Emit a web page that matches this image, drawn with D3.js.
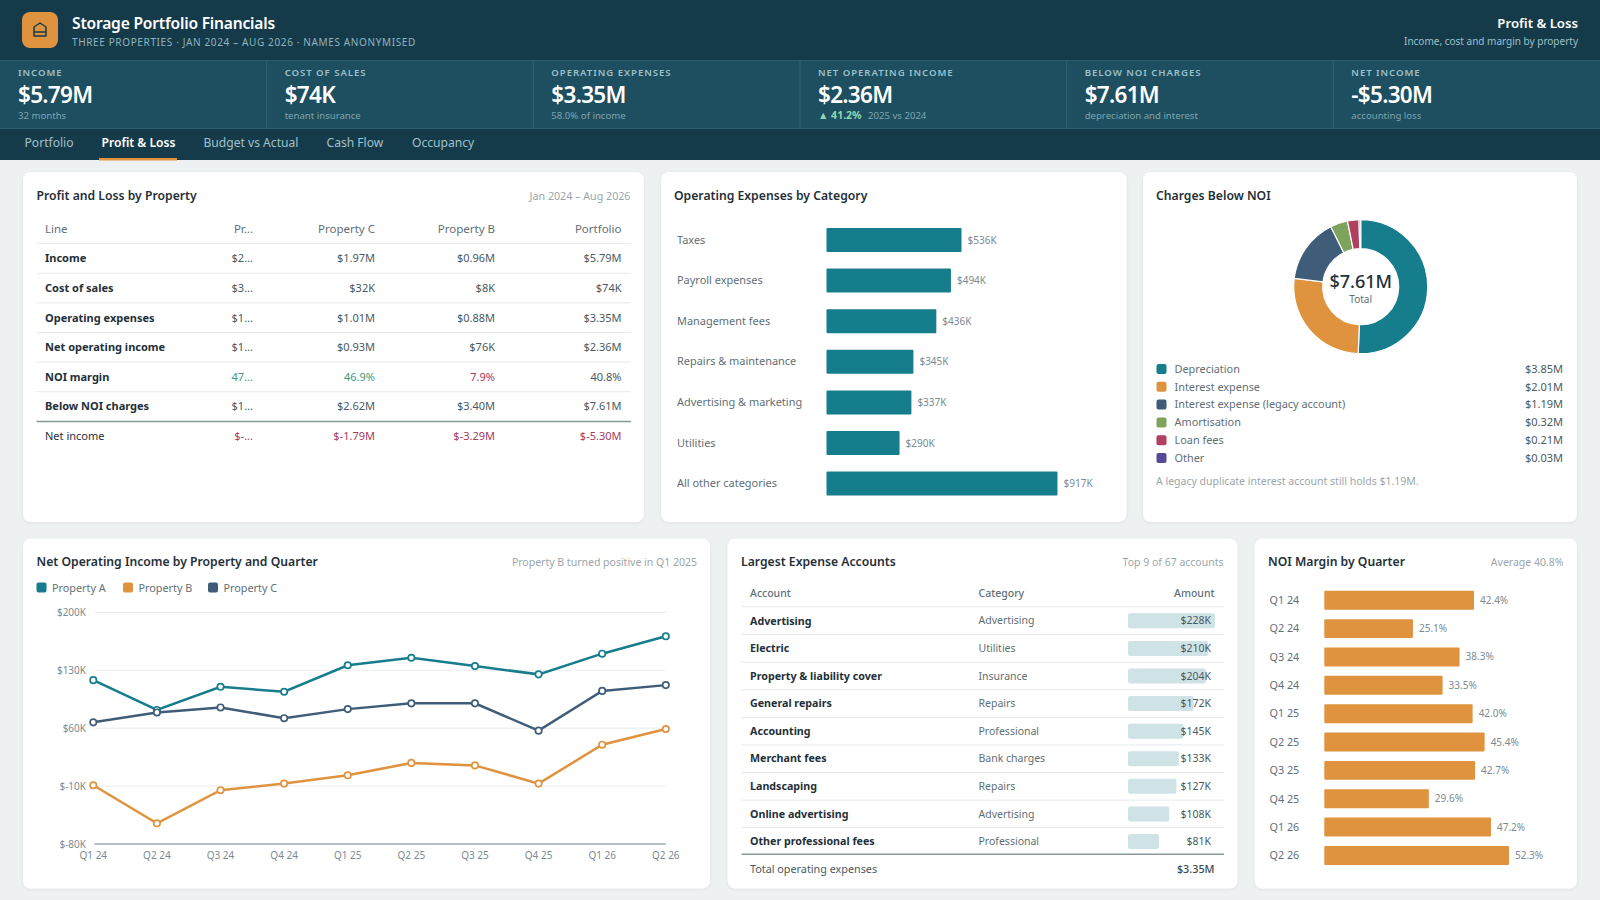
<!DOCTYPE html>
<html>
<head>
<meta charset="utf-8">
<title>Storage Portfolio Financials</title>
<script src="https://cdn.jsdelivr.net/npm/d3@7"></script>
<style>
    body { margin: 0; background: #eef1f2; overflow: hidden; }
    text { font-family: "Noto Sans", "Open Sans", sans-serif; }
</style>
</head>
<body>
<div id="chart"></div>
<script>
// KPI strip
const kpiLabels = ["INCOME", "COST OF SALES", "OPERATING EXPENSES", "NET OPERATING INCOME", "BELOW NOI CHARGES", "NET INCOME"];
const kpiValues = ["$5.79M", "$74K", "$3.35M", "$2.36M", "$7.61M", "-$5.30M"];
const kpiNotes = ["32 months", "tenant insurance", "58.0% of income", "2025 vs 2024", "depreciation and interest", "accounting loss"];

// Tabs
const tabNames = ["Portfolio", "Profit & Loss", "Budget vs Actual", "Cash Flow", "Occupancy"];

// Profit and loss table
const plLines = ["Income", "Cost of sales", "Operating expenses", "Net operating income", "NOI margin", "Below NOI charges", "Net income"];
const plHeaders = ["Line", "Pr...", "Property C", "Property B", "Portfolio"];
const plPropertyA = ["$2...", "$3...", "$1...", "$1...", "47...", "$1...", "$-..."];
const plPropertyC = ["$1.97M", "$32K", "$1.01M", "$0.93M", "46.9%", "$2.62M", "$-1.79M"];
const plPropertyB = ["$0.96M", "$8K", "$0.88M", "$76K", "7.9%", "$3.40M", "$-3.29M"];
const plPortfolio = ["$5.79M", "$74K", "$3.35M", "$2.36M", "40.8%", "$7.61M", "$-5.30M"];

// Operating expenses by category ($K)
const opexCategories = ["Taxes", "Payroll expenses", "Management fees", "Repairs & maintenance", "Advertising & marketing", "Utilities", "All other categories"];
const opexValues = [536, 494, 436, 345, 337, 290, 917];

// Charges below NOI ($M)
const chargeNames = ["Depreciation", "Interest expense", "Interest expense (legacy account)", "Amortisation", "Loan fees", "Other"];
const chargeValues = [3.85, 2.01, 1.19, 0.32, 0.21, 0.03];
const chargeColors = ["#167d8d", "#e0933f", "#3f5d78", "#7ea35c", "#b0405f", "#564a96"];

// NOI by property and quarter ($K)
const quarters = ["Q1 24", "Q2 24", "Q3 24", "Q4 24", "Q1 25", "Q2 25", "Q3 25", "Q4 25", "Q1 26", "Q2 26"];
const noiPropertyA = [118, 82, 110, 104, 136, 145, 135, 125, 150, 171];
const noiPropertyB = [-9, -55, -15, -7, 3, 18, 15, -7, 40, 59];
const noiPropertyC = [67, 79, 85, 72, 83, 90, 90, 57, 105, 112];
const noiTicks = [200, 130, 60, -10, -80];

// Largest expense accounts ($K)
const accountNames = ["Advertising", "Electric", "Property & liability cover", "General repairs", "Accounting", "Merchant fees", "Landscaping", "Online advertising", "Other professional fees"];
const accountCategories = ["Advertising", "Utilities", "Insurance", "Repairs", "Professional", "Bank charges", "Repairs", "Advertising", "Professional"];
const accountValues = [228, 210, 204, 172, 145, 133, 127, 108, 81];

// NOI margin by quarter (%)
const marginValues = [42.4, 25.1, 38.3, 33.5, 42.0, 45.4, 42.7, 29.6, 47.2, 52.3];

const ink = "#1f3038";
const muted = "#5f6f76";
const faint = "#9aa6ab";
const rowLine = "#e6eaec";
const strongLine = "#8a979d";
const teal = "#167d8d";
const orange = "#e0933f";
const navy = "#3f5d78";
const red = "#a83a5c";
const green = "#3f9a7c";

const svg = d3.select("#chart").append("svg")
    .attr("width", 1600)
    .attr("height", 900)
    .style("display", "block");

// Soft card shadow
const shadow = svg.append("defs").append("filter")
    .attr("id", "card-shadow")
    .attr("x", "-5%").attr("y", "-5%").attr("width", "110%").attr("height", "110%");
shadow.append("feDropShadow")
    .attr("dx", 0).attr("dy", 1).attr("stdDeviation", 1.5)
    .attr("flood-color", "#1f3038").attr("flood-opacity", 0.07);

// Small helper so every label is written the same way
function label(parent, x, y, str, size, color, opts = {}) {
    return parent.append("text")
        .attr("x", x)
        .attr("y", y)
        .attr("dy", "0.35em")
        .attr("font-size", size)
        .attr("fill", color)
        .attr("font-weight", opts.weight || 400)
        .attr("text-anchor", opts.anchor || "start")
        .attr("letter-spacing", opts.spacing || 0)
        .text(str);
}

function card(x, y, w, h) {
    svg.append("rect")
        .attr("x", x)
        .attr("y", y)
        .attr("width", w)
        .attr("height", h)
        .attr("rx", 8)
        .attr("fill", "#fff")
        .attr("filter", "url(#card-shadow)");
}

function rule(x1, x2, y, color, width = 1) {
    svg.append("line")
        .attr("x1", x1)
        .attr("x2", x2)
        .attr("y1", y)
        .attr("y2", y)
        .attr("stroke", color)
        .attr("stroke-width", width);
}

// Header band
svg.append("rect").attr("width", 1600).attr("height", 60).attr("fill", "#153b4b");
svg.append("rect").attr("y", 60).attr("width", 1600).attr("height", 68).attr("fill", "#1d4f60");
svg.append("rect").attr("y", 128).attr("width", 1600).attr("height", 32).attr("fill", "#153b4b");
rule(0, 1600, 60.5, "#2b5e6e");
rule(0, 1600, 128.5, "#2b5e6e");

svg.append("rect")
    .attr("x", 22).attr("y", 12).attr("width", 36).attr("height", 36).attr("rx", 8)
    .attr("fill", orange);
svg.append("path")
    .attr("d", "M34 36v-9l6-4 6 4v9z M34 32h12")
    .attr("fill", "none")
    .attr("stroke", "#153b4b")
    .attr("stroke-width", 1.5)
    .attr("stroke-linejoin", "round");

label(svg, 72, 23.5, "Storage Portfolio Financials", 15.6, "#fff", { weight: 600, spacing: -0.2 });
label(svg, 72, 42.5, "THREE PROPERTIES · JAN 2024 – AUG 2026 · NAMES ANONYMISED", 10, "#8fb4bf", { spacing: 0.63 });
label(svg, 1578, 23.5, "Profit & Loss", 13.2, "#fff", { weight: 600, anchor: "end" });
label(svg, 1578, 41, "Income, cost and margin by property", 10, "#9fbfc8", { anchor: "end" });

// KPI cells
const kpiX = d3.scaleBand().domain(kpiLabels).range([0, 1600]);
kpiLabels.forEach((name, i) => {
    const x = kpiX(name);
    const tx = x + 18;
    label(svg, tx, 73, name, 9.6, "#9cc0ca", { weight: 600, spacing: 0.95 });
    label(svg, tx, 95, kpiValues[i], 22.5, "#fff", { weight: 600, spacing: -0.7 });
    if (name === "NET OPERATING INCOME") {
        label(svg, tx, 115.5, "▲ 41.2%", 10.5, "#8fd6b4", { weight: 700 });
        label(svg, tx + 50, 115.5, kpiNotes[i], 9.6, "#7fa4ae");
    } else {
        label(svg, tx, 115.5, kpiNotes[i], 9.6, "#7fa4ae");
    }
    if (i > 0) {
        svg.append("line")
            .attr("x1", x).attr("x2", x)
            .attr("y1", 61).attr("y2", 128)
            .attr("stroke", "#2f6373");
    }
});

// Tabs
const tabX = [24.5, 101.5, 203.5, 326.5, 412];
tabNames.forEach((name, i) => {
    label(svg, tabX[i], 142.5, name, 12.1, i === 1 ? "#fff" : "#a0c0c9", { weight: i === 1 ? 600 : 400 });
});
svg.append("rect").attr("x", 99).attr("y", 158).attr("width", 78).attr("height", 2.5).attr("fill", orange);

// Cards
card(23, 172, 621, 350);
card(661, 172, 465.5, 350);
card(1143, 172, 434, 350);
card(23, 538.5, 687, 350);
card(727.5, 538.5, 510, 350);
card(1254.5, 538.5, 322.5, 350);

const titleSize = 12.2;

// Profit and loss table
label(svg, 36.5, 195.5, "Profit and Loss by Property", titleSize, ink, { weight: 600 });
label(svg, 630.5, 196, "Jan 2024 – Aug 2026", 10.7, faint, { anchor: "end" });

const plRows = ["header"].concat(plLines);
const plY = d3.scaleBand().domain(plRows).range([214, 451]);
const plColumns = [plPropertyA, plPropertyC, plPropertyB, plPortfolio];
const plRight = [253, 375, 495, 621.5];

plRows.forEach((row, r) => {
    const cy = plY(row) + plY.bandwidth() / 2;
    if (r === 0) {
        label(svg, 45, cy, plHeaders[0], 11.5, muted);
        plHeaders.slice(1).forEach((h, c) => label(svg, plRight[c], cy, h, 11.5, muted, { anchor: "end" }));
    } else {
        const i = r - 1;
        const bold = row !== "Net income";
        label(svg, 45, cy, row, 11, ink, { weight: bold ? 700 : 400 });
        plColumns.forEach((col, c) => {
            let color = "#4a5a61";
            if (row === "Net income") color = red;
            if (row === "NOI margin" && c < 2) color = green;
            if (row === "NOI margin" && c === 2) color = red;
            label(svg, plRight[c], cy, col[i], 11, color, { anchor: "end" });
        });
    }
    if (r < plRows.length - 1) {
        const next = plY.step() * (r + 1) + plY(plRows[0]);
        rule(36.5, 631, next, r === plRows.length - 2 ? strongLine : rowLine, r === plRows.length - 2 ? 1.5 : 1);
    }
});

// Operating expenses bars
label(svg, 674, 195.5, "Operating Expenses by Category", titleSize, ink, { weight: 600 });

const opexX = d3.scaleLinear().domain([0, 917]).range([826.5, 1057.5]);
const opexY = d3.scaleBand().domain(opexCategories).range([219.7, 503.9]).paddingInner(0.41).paddingOuter(0.205);

svg.append("g").selectAll("rect")
    .data(opexCategories)
    .enter()
    .append("rect")
    .attr("x", opexX(0))
    .attr("y", (d) => opexY(d))
    .attr("width", (d, i) => opexX(opexValues[i]) - opexX(0))
    .attr("height", opexY.bandwidth())
    .attr("rx", 1)
    .attr("fill", teal);

opexCategories.forEach((d, i) => {
    const cy = opexY(d) + opexY.bandwidth() / 2;
    label(svg, 677, cy - 0.3, d, 10.95, muted);
    label(svg, opexX(opexValues[i]) + 6, cy, "$" + opexValues[i] + "K", 10, "#7d8a90");
});

// Donut
label(svg, 1156, 195.5, "Charges Below NOI", titleSize, ink, { weight: 600 });

const pie = d3.pie().sort(null);
const arc = d3.arc().innerRadius(38).outerRadius(67);
const donut = svg.append("g").attr("transform", "translate(1360.7,286.7)");

donut.selectAll("path")
    .data(pie(chargeValues))
    .enter()
    .append("path")
    .attr("d", arc)
    .attr("fill", (d, i) => chargeColors[i])
    .attr("stroke", "#fff")
    .attr("stroke-width", 1.2);

label(donut, 0, -5, "$7.61M", 18, ink, { weight: 500, anchor: "middle" });
label(donut, 0, 12.5, "Total", 10, muted, { anchor: "middle" });

const legendY = d3.scalePoint().domain(chargeNames).range([369, 458]);
chargeNames.forEach((d, i) => {
    const cy = legendY(d);
    svg.append("rect")
        .attr("x", 1156.5).attr("y", cy - 5).attr("width", 10).attr("height", 10).attr("rx", 2)
        .attr("fill", chargeColors[i]);
    label(svg, 1174.5, cy, d, 10.9, muted);
    label(svg, 1563, cy, "$" + chargeValues[i].toFixed(2) + "M", 11, "#4a5a61", { anchor: "end" });
});
label(svg, 1156, 481.5, "A legacy duplicate interest account still holds $1.19M.", 10.5, faint);

// NOI line chart
label(svg, 36.5, 561.5, "Net Operating Income by Property and Quarter", titleSize, ink, { weight: 600 });
label(svg, 697, 562, "Property B turned positive in Q1 2025", 10.5, faint, { anchor: "end" });

const noiSeries = [
    { name: "Property A", color: teal, values: noiPropertyA },
    { name: "Property B", color: orange, values: noiPropertyB },
    { name: "Property C", color: navy, values: noiPropertyC }
];

const legendX = [36.5, 123, 208];
noiSeries.forEach((s, i) => {
    svg.append("rect")
        .attr("x", legendX[i]).attr("y", 582.5).attr("width", 10).attr("height", 10).attr("rx", 2)
        .attr("fill", s.color);
    label(svg, legendX[i] + 15.5, 588, s.name, 10.8, muted);
});

const lineX = d3.scalePoint().domain(quarters).range([93.3, 665.8]);
const lineY = d3.scaleLinear().domain([-80, 200]).range([844, 612.3]);

svg.append("g").selectAll("line")
    .data(noiTicks)
    .enter()
    .append("line")
    .attr("x1", 94.5)
    .attr("x2", 665.8)
    .attr("y1", (d) => lineY(d))
    .attr("y2", (d) => lineY(d))
    .attr("stroke", (d) => d === -80 ? "#6f7d84" : "#e8ecee");

noiTicks.forEach((d) => label(svg, 86, lineY(d), "$" + d + "K", 10, "#7d8a90", { anchor: "end" }));
quarters.forEach((q) => label(svg, lineX(q), 855, q, 10, "#7d8a90", { anchor: "middle" }));

const line = d3.line().x((d, i) => lineX(quarters[i])).y((d) => lineY(d));

noiSeries.forEach((s) => {
    const g = svg.append("g");
    g.append("path")
        .attr("d", line(s.values))
        .attr("fill", "none")
        .attr("stroke", s.color)
        .attr("stroke-width", 2.5);
    g.selectAll("circle")
        .data(s.values)
        .enter()
        .append("circle")
        .attr("cx", (d, i) => lineX(quarters[i]))
        .attr("cy", (d) => lineY(d))
        .attr("r", 3.2)
        .attr("fill", "#fff")
        .attr("stroke", s.color)
        .attr("stroke-width", 1.7);
});

// Largest expense accounts
label(svg, 741, 561.5, "Largest Expense Accounts", titleSize, ink, { weight: 600 });
label(svg, 1223.5, 562, "Top 9 of 67 accounts", 10.5, faint, { anchor: "end" });

label(svg, 750, 593.5, "Account", 10.5, muted, { weight: 500 });
label(svg, 978.5, 593.5, "Category", 10.5, muted, { weight: 500 });
label(svg, 1214.5, 593.5, "Amount", 10.5, muted, { weight: 500, anchor: "end" });
rule(741.5, 1224, 606.7, rowLine);

const accY = d3.scaleBand().domain(accountNames).range([607, 855.3]);
const accX = d3.scaleLinear().domain([0, 228]).range([1128, 1215]);

accountNames.forEach((d, i) => {
    const cy = accY(d) + accY.bandwidth() / 2;
    svg.append("rect")
        .attr("x", accX(0))
        .attr("y", cy - 7.5)
        .attr("width", accX(accountValues[i]) - accX(0))
        .attr("height", 15)
        .attr("rx", 2)
        .attr("fill", "#cfe2e6");
    label(svg, 750, cy, d, 10.7, ink, { weight: 700 });
    label(svg, 978.5, cy, accountCategories[i], 10.5, muted);
    label(svg, 1211, cy, "$" + accountValues[i] + "K", 10.5, "#4a5a61", { anchor: "end" });
    const bottom = accY(d) + accY.step();
    if (i < accountNames.length - 1) rule(741.5, 1224, bottom, rowLine);
});
rule(741.5, 1224, 854.3, strongLine, 1.5);
label(svg, 750, 869, "Total operating expenses", 10.8, "#4a5a61");
label(svg, 1214.5, 869, "$3.35M", 10.8, "#3a4a51", { anchor: "end", weight: 500 });

// NOI margin bars
label(svg, 1268, 561.5, "NOI Margin by Quarter", titleSize, ink, { weight: 600 });
label(svg, 1563.5, 562, "Average 40.8%", 10.5, faint, { anchor: "end" });

const marginX = d3.scaleLinear().domain([0, 52.3]).range([1324.3, 1509]);
const marginY = d3.scaleBand().domain(quarters).range([586.1, 869.6]).paddingInner(0.33).paddingOuter(0.165);

svg.append("g").selectAll("rect")
    .data(quarters)
    .enter()
    .append("rect")
    .attr("x", marginX(0))
    .attr("y", (d) => marginY(d))
    .attr("width", (d, i) => marginX(marginValues[i]) - marginX(0))
    .attr("height", marginY.bandwidth())
    .attr("rx", 1)
    .attr("fill", orange);

quarters.forEach((d, i) => {
    const cy = marginY(d) + marginY.bandwidth() / 2;
    label(svg, 1269.5, cy, d, 10.8, muted);
    label(svg, marginX(marginValues[i]) + 6, cy, marginValues[i].toFixed(1) + "%", 10, "#7d8a90");
});
</script>
</body>
</html>
